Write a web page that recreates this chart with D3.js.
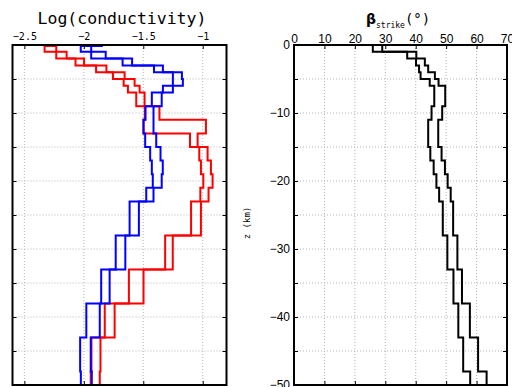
<!DOCTYPE html>
<html lang="en">
<head>
  <meta charset="UTF-8">
  <title>conductivity and strike</title>
  <script src="https://cdn.jsdelivr.net/npm/d3@7/dist/d3.min.js"></script>
  <style>
    body { margin: 0; background: #fff; }
    svg { display: block; }
  </style>
</head>
<body>
  <div id="box"></div>
  <script>
    // layer tops (km), last layer ends at 50 km
    const layerTops = [0, 1, 2, 3, 4, 5, 6, 7, 9, 11, 13, 15, 17, 19, 21, 23, 28, 33, 38, 43, 48]
    const depthMax = 50

    // log10 conductivity, two bounds per model
    const redLow = [-2.33, -2.232, -2.07, -1.897, -1.755, -1.665, -1.629, -1.559, -1.487, -1.498, -1.107,
      -1.029, -1.015, -0.995, -1.02, -1.098, -1.316, -1.621, -1.824, -1.936, -1.942]
    const redHigh = [-2.232, -2.145, -1.998, -1.81, -1.657, -1.573, -1.531, -1.489, -1.364, -0.973, -1.043,
      -0.959, -0.931, -0.917, -0.951, -1.015, -1.252, -1.498, -1.741, -1.86, -1.866]
    const blueLow = [-2.026, -1.938, -1.674, -1.41, -1.251, -1.251, -1.335, -1.428, -1.481, -1.498, -1.484,
      -1.442, -1.428, -1.42, -1.475, -1.615, -1.732, -1.854, -1.979, -2.031, -2.025]
    const blueHigh = [-1.938, -1.816, -1.594, -1.335, -1.175, -1.167, -1.251, -1.345, -1.414, -1.414, -1.391,
      -1.355, -1.336, -1.345, -1.414, -1.537, -1.651, -1.783, -1.866, -1.942, -1.933]

    // strike angle (deg), two bounds
    const strikeLow = [25.9, 37.2, 40.1, 41.1, 41.6, 44.6, 46.1, 46.1, 45.2, 44.1, 44.1,
      44.8, 45.9, 46.8, 47.7, 48.9, 50.4, 52.4, 54.0, 55.6, 57.9]
    const strikeHigh = [29.0, 40.2, 43.0, 44.1, 46.3, 47.5, 49.7, 49.7, 48.7, 47.4, 47.4,
      48.5, 49.6, 50.5, 51.5, 52.3, 53.7, 55.2, 57.8, 60.5, 63.3]

    const condTicks = [-2.5, -2, -1.5, -1]
    const strikeTicks = [0, 10, 20, 30, 40, 50, 60, 70]
    const zTicks = [0, -5, -10, -15, -20, -25, -30, -35, -40, -45, -50]

    const width = 512
    const height = 387
    const yTop = 45, yBottom = 385

    const svg = d3.select('#box').append('svg')
      .attr('width', width)
      .attr('height', height)

    const y = d3.scaleLinear().domain([0, -depthMax]).range([yTop, yBottom])

    function steps(vals) {
      const pts = []
      vals.forEach((v, i) => {
        const z0 = layerTops[i]
        const z1 = i + 1 < layerTops.length ? layerTops[i + 1] : depthMax
        pts.push([v, -z0], [v, -z1])
      })
      return pts
    }

    function panel(x, ticks, opts) {
      const g = svg.append('g')
      const [x0, x1] = x.range()

      // grid
      g.selectAll('.vg').data(ticks).join('line')
        .attr('x1', d => x(d)).attr('x2', d => x(d))
        .attr('y1', yTop).attr('y2', yBottom)
        .attr('stroke', '#b4b4b4').attr('stroke-dasharray', '1,2')
      g.selectAll('.hg').data(zTicks).join('line')
        .attr('x1', x0).attr('x2', x1)
        .attr('y1', d => y(d)).attr('y2', d => y(d))
        .attr('stroke', '#b4b4b4').attr('stroke-dasharray', '1,2')

      const line = d3.line().x(d => x(d[0])).y(d => y(d[1]))
      opts.series.forEach(s => {
        g.append('path')
          .attr('d', line(steps(s.vals)))
          .attr('fill', 'none')
          .attr('stroke', s.color)
          .attr('stroke-width', 2)
      })
      opts.caps.forEach(c => {
        g.append('line')
          .attr('x1', x(c.a)).attr('x2', x(c.b))
          .attr('y1', y(0) + 1).attr('y2', y(0) + 1)
          .attr('stroke', c.color).attr('stroke-width', 2)
      })

      // axes, ticks inside
      const axT = g.append('g').attr('transform', `translate(0,${yTop})`)
        .call(d3.axisTop(x).tickValues(ticks).tickSizeInner(-4).tickSizeOuter(0)
          .tickPadding(opts.xPad).tickFormat(opts.xFormat))
      axT.selectAll('text').attr('font-family', opts.xFont).attr('font-size', opts.xSize).attr('fill', '#000')
      g.append('g').attr('transform', `translate(0,${yBottom})`)
        .call(d3.axisBottom(x).tickValues(ticks).tickSizeInner(-4).tickSizeOuter(0).tickFormat(''))
      const axL = g.append('g').attr('transform', `translate(${x0},0)`)
        .call(d3.axisLeft(y).tickValues(zTicks).tickSizeInner(-4).tickSizeOuter(0)
          .tickPadding(4).tickFormat(opts.yFormat))
      axL.selectAll('text').attr('font-family', opts.yFont).attr('font-size', 12).attr('fill', '#000')
      g.append('g').attr('transform', `translate(${x1},0)`)
        .call(d3.axisRight(y).tickValues(zTicks).tickSizeInner(-4).tickSizeOuter(0).tickFormat(''))
      g.selectAll('.domain').remove()
      g.selectAll('.tick line').attr('stroke', '#000').attr('stroke-width', 1)

      g.append('rect')
        .attr('x', x0).attr('y', yTop)
        .attr('width', x1 - x0).attr('height', yBottom - yTop)
        .attr('fill', 'none').attr('stroke', '#000').attr('stroke-width', 2)
    }

    const xCond = d3.scaleLinear().domain([-2.6, -0.8]).range([12.5, 226.5])
    const xStrike = d3.scaleLinear().domain([0, 70]).range([294, 507])

    panel(xCond, condTicks, {
      series: [
        { vals: redLow, color: '#ff0000' }, { vals: redHigh, color: '#ff0000' },
        { vals: blueLow, color: '#0000ff' }, { vals: blueHigh, color: '#0000ff' }
      ],
      caps: [
        { a: redLow[0], b: redHigh[0], color: '#ff0000' },
        { a: blueLow[0], b: -1.84, color: '#0000ff' }
      ],
      xPad: 5,
      xFormat: d => String(d).replace('-', '\u2212'),
      xFont: 'DejaVu Sans Mono',
      xSize: 10,
      yFormat: '',
      yFont: 'DejaVu Sans Mono'
    })

    panel(xStrike, strikeTicks, {
      series: [
        { vals: strikeLow, color: '#000' }, { vals: strikeHigh, color: '#000' }
      ],
      caps: [],
      xPad: 2,
      xFormat: d => d,
      xFont: "'Liberation Sans Narrow', 'Liberation Sans', Arial, sans-serif",
      xSize: 12,
      yFormat: d => (d % 10 === 0 ? d3.format('d')(d) : ''),
      yFont: "'Liberation Sans Narrow', 'Liberation Sans', Arial, sans-serif"
    })

    // titles
    svg.append('text')
      .attr('x', 122).attr('y', 24)
      .attr('text-anchor', 'middle')
      .attr('font-family', 'DejaVu Sans Mono').attr('font-size', 16.5)
      .text('Log(conductivity)')

    const t2 = svg.append('text')
      .attr('x', 366).attr('y', 24)
      .attr('font-family', 'DejaVu Sans Mono').attr('font-size', 14)
    t2.append('tspan').attr('font-weight', 'bold').attr('font-family', 'DejaVu Sans').text('β')
    t2.append('tspan').attr('font-size', 8).attr('dy', 3.5).text('strike')
    t2.append('tspan').attr('dy', -3.5).text('(°)')

    svg.append('text')
      .attr('transform', 'translate(250,223) rotate(-90)')
      .attr('text-anchor', 'middle')
      .attr('font-family', 'DejaVu Sans Mono').attr('font-size', 9)
      .text('z (km)')
  </script>
</body>
</html>
